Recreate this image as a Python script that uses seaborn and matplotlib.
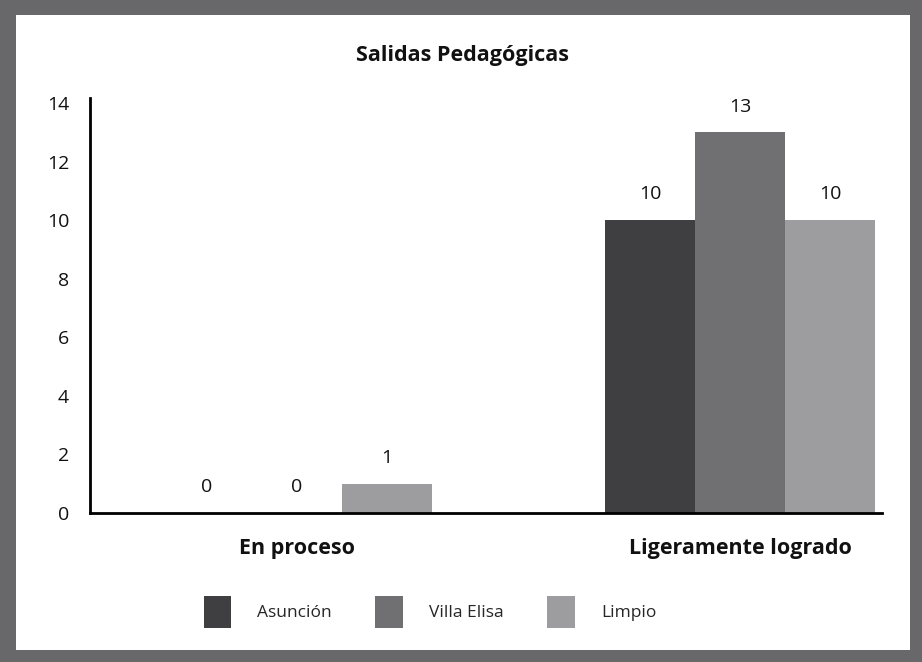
import pandas as pd
import seaborn as sns
import matplotlib.pyplot as plt
from matplotlib.patches import Rectangle, Patch

# Data
categories = ["En proceso", "Ligeramente logrado"]
series = ["Asunción", "Villa Elisa", "Limpio"]
asuncion = [0, 10]
villa_elisa = [0, 13]
limpio = [1, 10]
colors = ["#3f3f41", "#707072", "#9d9d9f"]

df = pd.DataFrame({
    "categoria": categories * 3,
    "ciudad": [s for s in series for _ in categories],
    "valor": asuncion + villa_elisa + limpio,
})

sns.set_theme(style="white")
plt.rcParams["font.family"] = ["Open Sans", "DejaVu Sans"]

W, H = 922, 662
fig = plt.figure(figsize=(W / 100, H / 100), dpi=100)
fig.patch.set_facecolor("#68686a")
fig.add_artist(Rectangle((16 / W, 12 / H), (910 - 16) / W, (647 - 12) / H,
                         transform=fig.transFigure, facecolor="white",
                         edgecolor="none", zorder=-1))

ax = fig.add_axes([90 / W, 1 - 513 / H, (882 - 90) / W, (513 - 98) / H])
ax.set_facecolor("none")

sns.barplot(data=df, x="categoria", y="valor", hue="ciudad", order=categories,
            hue_order=series, palette=colors, width=0.61, gap=0,
            saturation=1, linewidth=0, ax=ax, legend=False)

for cont in ax.containers:
    ax.bar_label(cont, fmt="%g", padding=12, fontsize=14, color="#111111")

ax.set_ylim(0, 14.17)
ax.set_xlim(-0.467, 1.32)
ax.set_yticks(range(0, 15, 2))
ax.tick_params(axis="y", length=0, pad=15, labelsize=14, labelcolor="#111111")
ax.tick_params(axis="x", length=0, pad=18, labelsize=15.5, labelcolor="#111111")
for lbl in ax.get_xticklabels():
    lbl.set_fontweight("bold")
ax.set_xlabel("")
ax.set_ylabel("")
for side in ["top", "right"]:
    ax.spines[side].set_visible(False)
for side in ["left", "bottom"]:
    ax.spines[side].set_color("black")
    ax.spines[side].set_linewidth(2)

fig.text(463 / W, 1 - 56 / H, "Salidas Pedagógicas", ha="center", va="center",
         fontsize=15.5, fontweight="bold", color="#111111")

handles = [Patch(facecolor=c, edgecolor="none") for c in colors]
fig.legend(handles, series, loc="center", bbox_to_anchor=(430 / W, 1 - 612 / H),
           ncol=3, frameon=False, fontsize=12.5, handlelength=1.6, handleheight=2.4,
           handletextpad=1.5, columnspacing=2.5)

fig.savefig("out.png", dpi=100, facecolor=fig.get_facecolor())
